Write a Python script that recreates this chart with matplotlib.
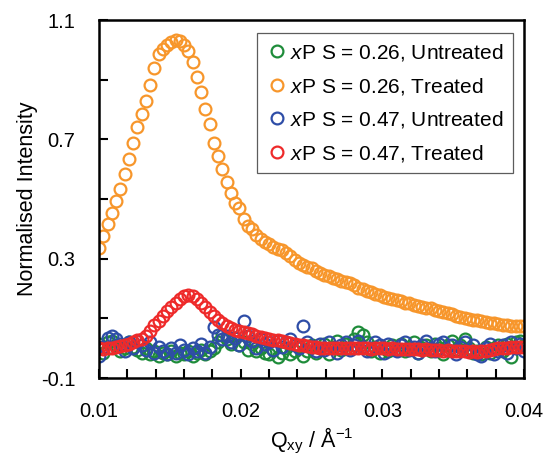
import numpy as np
import matplotlib
matplotlib.use("Agg")
import matplotlib.pyplot as plt
from matplotlib.ticker import FixedLocator

plt.rcParams['font.family'] = ['Liberation Sans', 'DejaVu Sans']
plt.rcParams['mathtext.fontset'] = 'custom'
plt.rcParams['mathtext.rm'] = 'Liberation Sans'
plt.rcParams['mathtext.it'] = 'Liberation Sans:italic'

# Q_xy grid (A^-1), step 0.0003
q = np.round(np.arange(101) * 0.0003 + 0.01, 5)

# xPS = 0.26, untreated
green = [0.015, -0.015, 0.02, 0.025, 0.01, -0.01, 0.0, 0.02, 0.005, -0.005,
         -0.015, 0.0, -0.02, -0.01, -0.025, -0.015, -0.02, -0.01, -0.025, -0.015,
         -0.02, -0.01, -0.025, -0.015, -0.005, -0.02, -0.01, 0.0, 0.02, 0.045,
         0.03, 0.015, 0.035, 0.01, 0.02, -0.005, 0.015, -0.01, 0.0, -0.015,
         -0.02, -0.005, -0.03, -0.015, 0.0, -0.02, -0.01, 0.005, -0.025, -0.01,
         0.01, -0.015, 0.0, 0.015, -0.02, 0.005, 0.025, -0.005, 0.015, 0.0,
         0.03, 0.055, 0.045, 0.02, -0.01, 0.005, -0.015, 0.0, -0.01, 0.01,
         -0.005, 0.015, -0.01, 0.005, 0.02, -0.015, 0.0, 0.01, -0.01, 0.015,
         0.0, -0.02, 0.01, 0.025, -0.005, 0.01, 0.03, 0.0, -0.015, -0.01,
         -0.02, 0.005, -0.015, 0.0, 0.01, -0.01, 0.015, -0.03, 0.02, 0.025, 0.01]

# xPS = 0.26, treated
orange = [0.335, 0.376, 0.415, 0.454, 0.494, 0.533, 0.583, 0.635, 0.687, 0.740,
          0.784, 0.830, 0.882, 0.938, 0.986, 1.003, 1.016, 1.027, 1.033, 1.030,
          1.016, 0.997, 0.958, 0.910, 0.860, 0.802, 0.750, 0.687, 0.644, 0.602,
          0.556, 0.519, 0.488, 0.469, 0.432, 0.410, 0.398, 0.380, 0.366, 0.356,
          0.348, 0.340, 0.334, 0.328, 0.318, 0.308, 0.295, 0.286, 0.279, 0.273,
          0.268, 0.259, 0.251, 0.246, 0.241, 0.236, 0.231, 0.226, 0.221, 0.217,
          0.211, 0.203, 0.198, 0.192, 0.188, 0.182, 0.178, 0.173, 0.168, 0.164,
          0.160, 0.157, 0.153, 0.150, 0.146, 0.142, 0.139, 0.136, 0.133, 0.129,
          0.126, 0.122, 0.118, 0.115, 0.109, 0.105, 0.101, 0.098, 0.096, 0.094,
          0.091, 0.088, 0.085, 0.083, 0.080, 0.079, 0.076, 0.074, 0.074, 0.073, 0.073]

# xPS = 0.47, untreated
blue = [-0.025, 0.005, 0.035, 0.04, 0.03, 0.015, -0.01, 0.02, 0.0, 0.025,
        0.01, -0.005, 0.02, -0.015, 0.005, -0.01, -0.02, 0.0, -0.015, 0.01,
        -0.005, -0.02, 0.0, -0.01, 0.015, -0.015, 0.005, 0.07, 0.045, 0.03,
        0.04, 0.02, 0.035, 0.01, 0.09, 0.04, 0.025, 0.0, 0.03, 0.015,
        0.02, -0.005, 0.025, 0.005, 0.02, 0.03, 0.01, 0.0, 0.075, 0.02,
        0.005, -0.01, 0.015, -0.005, 0.02, 0.0, -0.015, 0.01, 0.02, -0.005,
        0.01, 0.025, 0.005, -0.01, 0.0, 0.02, 0.01, -0.015, 0.015, 0.0,
        -0.01, 0.01, 0.02, -0.005, 0.005, -0.015, 0.01, 0.025, 0.0, -0.01,
        0.015, 0.02, -0.005, 0.01, -0.02, 0.005, 0.02, -0.01, 0.01, -0.02,
        -0.025, 0.0, 0.015, -0.02, -0.01, 0.01, -0.015, 0.02, 0.0, 0.015, -0.01]

# xPS = 0.47, treated
red = [0.000, -0.002, 0.001, 0.002, 0.004, 0.007, 0.010, 0.015, 0.021, 0.026,
       0.032, 0.042, 0.058, 0.076, 0.092, 0.108, 0.124, 0.138, 0.152, 0.165,
       0.174, 0.179, 0.176, 0.166, 0.152, 0.138, 0.122, 0.108, 0.096, 0.085,
       0.075, 0.068, 0.062, 0.057, 0.053, 0.050, 0.046, 0.042, 0.038, 0.034,
       0.031, 0.029, 0.026, 0.024, 0.022, 0.018, 0.015, 0.011, 0.009, 0.007,
       0.005, 0.003, 0.002, 0.001, 0.000, 0.001, -0.001, 0.000, 0.001, -0.001,
       0.000, 0.001, -0.001, 0.000, -0.002, 0.000, -0.001, 0.001, -0.002, -0.001,
       -0.002, -0.003, -0.002, -0.004, -0.003, -0.004, -0.005, -0.004, -0.006, -0.005,
       -0.007, -0.008, -0.007, -0.009, -0.008, -0.010, -0.011, -0.012, -0.011, -0.012,
       -0.010, -0.008, -0.006, -0.003, 0.000, 0.001, 0.002, 0.003, 0.003, 0.004, 0.003]

x_ticks = [0.01, 0.02, 0.03, 0.04]
x_minor = [0.012, 0.014, 0.016, 0.018, 0.022, 0.024, 0.026, 0.028,
           0.032, 0.034, 0.036, 0.038]
y_ticks = [-0.1, 0.3, 0.7, 1.1]
y_minor = [0.1, 0.5, 0.9]

series = [
    (green, '#1E8C3A', '$x$P S = 0.26, Untreated'),
    (orange, '#F7962B', '$x$P S = 0.26, Treated'),
    (blue, '#2E4DA7', '$x$P S = 0.47, Untreated'),
    (red, '#EE2A2A', '$x$P S = 0.47, Treated'),
]

fig = plt.figure(figsize=(5.48, 4.67), dpi=100)
ax = fig.add_axes([99 / 548, 1 - 378 / 467, 425 / 548, 358 / 467])

for vals, col, lab in series:
    ax.plot(q, vals, 'o', mfc='none', mec=col, mew=1.6, ms=8.5, label=lab)

ax.set_xlim(0.01, 0.04)
ax.set_ylim(-0.1, 1.1)
ax.xaxis.set_major_locator(FixedLocator(x_ticks))
ax.xaxis.set_minor_locator(FixedLocator(x_minor))
ax.yaxis.set_major_locator(FixedLocator(y_ticks))
ax.yaxis.set_minor_locator(FixedLocator(y_minor))
ax.set_xticklabels([str(v) for v in x_ticks])
ax.set_yticklabels([str(v) for v in y_ticks])

ax.tick_params(which='both', direction='in', length=6.5, width=1.5,
               top=False, right=False, labelsize=14.5)
ax.tick_params(axis='x', pad=17)
ax.tick_params(axis='y', pad=17)
for s in ax.spines.values():
    s.set_linewidth(1.8)

ax.set_xlabel(r'Q$_\mathrm{xy}$ / Å$^{-1}$', fontsize=15.5, labelpad=4)
ax.set_ylabel('Normalised Intensity', fontsize=15.5, labelpad=2)

leg = ax.legend(loc='upper right', bbox_to_anchor=(0.974, 0.964), borderaxespad=0,
                fontsize=15, frameon=True, fancybox=False, handletextpad=0.15,
                handlelength=1.0, labelspacing=0.6, borderpad=0.45)
leg.get_frame().set_edgecolor('#333333')
leg.get_frame().set_linewidth(0.9)

fig.savefig('out.png', dpi=100)
